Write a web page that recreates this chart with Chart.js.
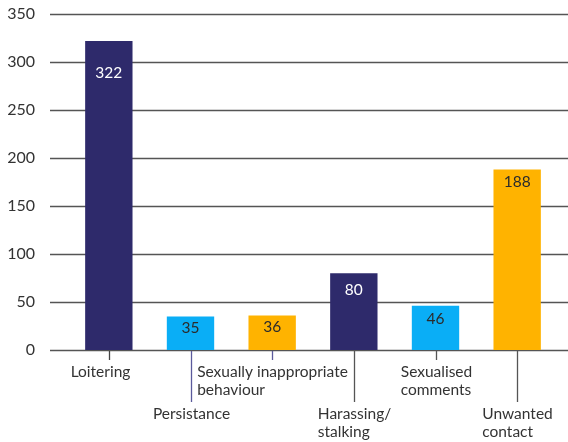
<!DOCTYPE html>
<html>
<head>
<meta charset="utf-8">
<script src="https://cdn.jsdelivr.net/npm/chart.js@4"></script>
<style>
html,body{margin:0;padding:0;background:#fff;}
#wrap{width:568px;height:442px;position:relative;}
</style>
</head>
<body>
<div id="wrap"><canvas id="c"></canvas></div>
<script>
const categories = ["Loitering", "Persistance", "Sexually inappropriate behaviour", "Harassing/ stalking", "Sexualised comments", "Unwanted contact"];
const labelLines = [["Loitering"], ["Persistance"], ["Sexually inappropriate", "behaviour"], ["Harassing/", "stalking"], ["Sexualised", "comments"], ["Unwanted", "contact"]];
const values = [322, 35, 36, 80, 46, 188];
const yTicks = [0, 50, 100, 150, 200, 250, 300, 350];

const NAVY = "#2e2a6b", BLUE = "#0aaef6", ORANGE = "#ffb300";
const barColors = [NAVY, BLUE, ORANGE, NAVY, BLUE, ORANGE];
const valueColors = ["#ffffff", "#2b2b2b", "#2b2b2b", "#ffffff", "#2b2b2b", "#2b2b2b"];
const longTick = [false, true, false, true, false, true];
const tickColors = ["#444", "#5b5a9c", "#5b5a9c", "#555", "#555", "#555"];
const valueOffsets = [32, 12, 12, 17, 13, 12];
const labelDx = [-9, 0, 0, 0, 0, 0];
const FONT = "Lato";

const overlay = {
  id: "overlay",
  beforeDatasetsDraw(chart) {
    const ctx = chart.ctx, y = chart.scales.y;
    ctx.save();
    ctx.strokeStyle = "#555";
    ctx.lineWidth = 1.3;
    yTicks.forEach(t => {
      const py = Math.round(y.getPixelForValue(t)) + 0.5;
      ctx.beginPath(); ctx.moveTo(50, py); ctx.lineTo(568, py); ctx.stroke();
    });
    ctx.restore();
  },
  afterDatasetsDraw(chart) {
    const ctx = chart.ctx, x = chart.scales.x, y = chart.scales.y;
    const base = y.getPixelForValue(0);
    ctx.save();
    ctx.font = "15.5px " + FONT;
    ctx.textAlign = "center"; ctx.textBaseline = "middle";
    values.forEach((v, i) => {
      ctx.fillStyle = valueColors[i];
      ctx.fillText(String(v), x.getPixelForValue(i), y.getPixelForValue(v) + valueOffsets[i]);
    });
    ctx.textAlign = "left";
    labelLines.forEach((lines, i) => {
      const px = Math.round(x.getPixelForValue(i)) + 0.5;
      const len = longTick[i] ? 52 : 10;
      ctx.strokeStyle = tickColors[i]; ctx.lineWidth = 1.3;
      ctx.beginPath(); ctx.moveTo(px, base + 1); ctx.lineTo(px, base + len); ctx.stroke();
      const startY = base + len + 12;
      const w = Math.max(...lines.map(l => ctx.measureText(l).width));
      const left = px - w / 2 + labelDx[i];
      ctx.fillStyle = "#333";
      lines.forEach((l, j) => ctx.fillText(l, left, startY + j * 18));
    });
    ctx.restore();
  }
};

new Chart(document.getElementById("c"), {
  type: "bar",
  data: {
    labels: categories,
    datasets: [{
      data: values,
      backgroundColor: barColors,
      borderWidth: 0,
      categoryPercentage: 1,
      barPercentage: 0.58
    }]
  },
  options: {
    responsive: true,
    maintainAspectRatio: false,
    animation: false,
    devicePixelRatio: 1,
    layout: { padding: { top: 14, right: 10, bottom: 92, left: 0 } },
    plugins: { legend: { display: false }, tooltip: { enabled: false } },
    scales: {
      x: { display: false },
      y: {
        min: 0, max: 350,
        afterFit(s) { s.width = 68; s.paddingTop = 0; s.paddingBottom = 0; },
        afterBuildTicks(s) { s.ticks = yTicks.map(v => ({ value: v })); },
        grid: { display: false, drawTicks: false },
        border: { display: false },
        ticks: { padding: 33, color: "#333", font: { family: FONT, size: 16 } }
      }
    }
  },
  plugins: [overlay]
});
</script>
</body>
</html>
